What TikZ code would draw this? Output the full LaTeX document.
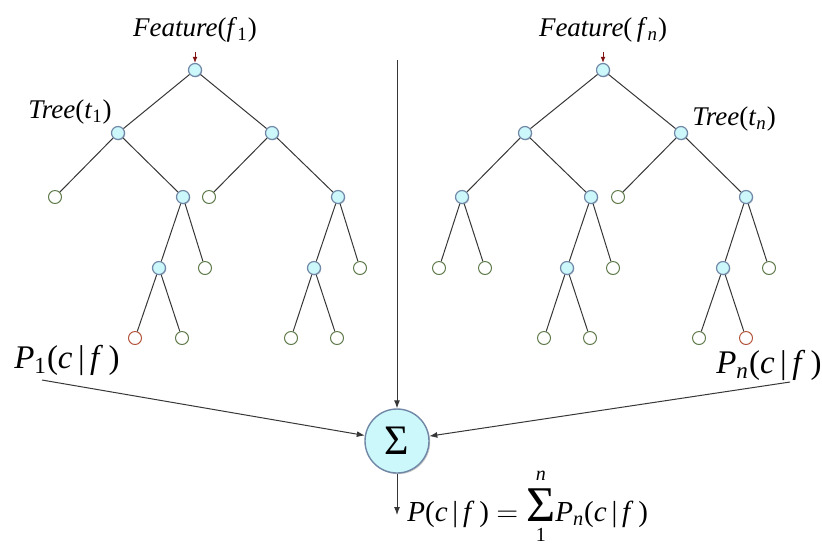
\documentclass[tikz,border=0pt]{standalone}
\usepackage{fontspec}
\setmainfont{Liberation Serif}
\usepackage{xcolor}
\usetikzlibrary{arrows.meta,shadows}

\definecolor{nodefill}{RGB}{204,247,251}
\definecolor{nodeedge}{RGB}{112,136,165}
\definecolor{leafedge}{RGB}{95,122,74}
\definecolor{hitedge}{RGB}{178,84,58}
\definecolor{featred}{RGB}{128,20,20}
\definecolor{linegray}{RGB}{55,55,55}

\newcommand{\ital}[1]{\textit{#1}}
\newcommand{\cgivf}{(\ital{c}\,|\,\ital{f}\,)}
\newcommand{\bigsum}{\mathop{\hbox{\fontsize{25}{25}\selectfont Σ}}\limits
  ^{\vbox{\hbox{\fontsize{10}{10}\selectfont\textit{n}}\kern2pt}}
  _{\vbox{\kern2pt\hbox{\fontsize{10}{10}\selectfont 1}}}}

\tikzset{
  splitnode/.style={circle, draw=nodeedge, fill=nodefill, line width=0.6pt, minimum size=6.5pt, inner sep=0pt,
    drop shadow={shadow xshift=0.4pt, shadow yshift=-0.4pt, fill=nodeedge, opacity=0.5}},
  leafnode/.style={circle, draw=leafedge, fill=white, line width=0.5pt, minimum size=6.5pt, inner sep=0pt},
  hitleaf/.style={leafnode, draw=hitedge},
  branch/.style={draw=linegray, line width=0.5pt},
  flow/.style={draw=linegray, line width=0.5pt, -{Latex[length=4pt,width=3pt]}},
}

\begin{document}
\begin{tikzpicture}[x=0.5pt, y=-0.5pt]
  \useasboundingbox (0,0) rectangle (822,548);

  % Tree t_1
  \node[splitnode] (r1) at (195,70) {};
  \node[splitnode] (a1) at (118,133) {};
  \node[splitnode] (b1) at (272,133) {};
  \node[leafnode] (a1l) at (55,197) {};
  \node[splitnode] (a1r) at (183,197) {};
  \node[splitnode] (a1rl) at (159,268) {};
  \node[leafnode] (a1rr) at (205,268) {};
  \node[hitleaf] (a1rll) at (135,338) {};
  \node[leafnode] (a1rlr) at (182,338) {};
  \node[leafnode] (b1l) at (209,197) {};
  \node[splitnode] (b1r) at (338,197) {};
  \node[splitnode] (b1rl) at (314,268) {};
  \node[leafnode] (b1rr) at (360,268) {};
  \node[leafnode] (b1rll) at (291,338) {};
  \node[leafnode] (b1rlr) at (337,338) {};
  \draw[branch] (r1) -- (a1) (r1) -- (b1)
    (a1) -- (a1l) (a1) -- (a1r) (a1r) -- (a1rl) (a1r) -- (a1rr)
    (a1rl) -- (a1rll) (a1rl) -- (a1rlr)
    (b1) -- (b1l) (b1) -- (b1r) (b1r) -- (b1rl) (b1r) -- (b1rr)
    (b1rl) -- (b1rll) (b1rl) -- (b1rlr);

  % Tree t_n
  \node[splitnode] (rn) at (603,70) {};
  \node[splitnode] (an) at (525,133) {};
  \node[splitnode] (bn) at (681,133) {};
  \node[splitnode] (anl) at (462,197) {};
  \node[leafnode] (anll) at (439,268) {};
  \node[leafnode] (anlr) at (485,268) {};
  \node[splitnode] (anr) at (591,197) {};
  \node[splitnode] (anrl) at (567,268) {};
  \node[leafnode] (anrr) at (613,268) {};
  \node[leafnode] (anrll) at (544,338) {};
  \node[leafnode] (anrlr) at (590,338) {};
  \node[leafnode] (bnl) at (618,197) {};
  \node[splitnode] (bnr) at (746,197) {};
  \node[splitnode] (bnrl) at (723,268) {};
  \node[leafnode] (bnrr) at (769,268) {};
  \node[leafnode] (bnrll) at (699,338) {};
  \node[hitleaf] (bnrlr) at (746,338) {};
  \draw[branch] (rn) -- (an) (rn) -- (bn)
    (an) -- (anl) (an) -- (anr) (anl) -- (anll) (anl) -- (anlr)
    (anr) -- (anrl) (anr) -- (anrr) (anrl) -- (anrll) (anrl) -- (anrlr)
    (bn) -- (bnl) (bn) -- (bnr) (bnr) -- (bnrl) (bnr) -- (bnrr)
    (bnrl) -- (bnrll) (bnrl) -- (bnrlr);

  % Labels
  \node (feat1) at (195,30) {\fontsize{13.5}{15}\selectfont \ital{Feature}(\ital{f}\textsubscript{1})};
  \node (featn) at (603,30) {\fontsize{13.5}{15}\selectfont \ital{Feature}(\,\ital{f}\textsubscript{\ital{n}})};
  \node (tree1) at (70,112) {\fontsize{13.5}{15}\selectfont \ital{Tree}(\ital{t}\textsubscript{1})};
  \node (treen) at (734,119) {\fontsize{13.5}{15}\selectfont \ital{Tree}(\ital{t}\textsubscript{\ital{n}})};
  \node (prob1) at (67,360) {\fontsize{16.5}{20}\selectfont \ital{P}\textsubscript{1}\cgivf};
  \node (probn) at (769,365) {\fontsize{16.5}{20}\selectfont \ital{P}\textsubscript{\ital{n}}\cgivf};
  \draw[featred, line width=0.5pt, -{Latex[length=3pt,width=2.4pt]}] (195,52) -- (r1);
  \draw[featred, line width=0.5pt, -{Latex[length=3pt,width=2.4pt]}] (603,52) -- (rn);

  % Summation
  \node[circle, draw=nodeedge, fill=nodefill, line width=0.7pt, minimum size=32pt, inner sep=0pt,
    drop shadow={shadow xshift=0.6pt, shadow yshift=-0.6pt, fill=gray, opacity=0.4}] (sum) at (397,441)
    {\fontsize{21}{22}\selectfont Σ};
  \coordinate (top) at (397,60);
  \coordinate (in1) at (42,380);
  \coordinate (inn) at (790,382);
  \coordinate (out) at (397,515);
  \draw[flow] (top) -- (sum);
  \draw[flow] (in1) -- (sum);
  \draw[flow] (inn) -- (sum);
  \draw[flow] (sum) -- (out);
  \node[anchor=base west, inner sep=1pt] (total) at (405,521)
    {\fontsize{14.5}{16}\selectfont \ital{P}\cgivf\ $=\bigsum$\ital{P}\textsubscript{\ital{n}}\cgivf};
\end{tikzpicture}
\end{document}
